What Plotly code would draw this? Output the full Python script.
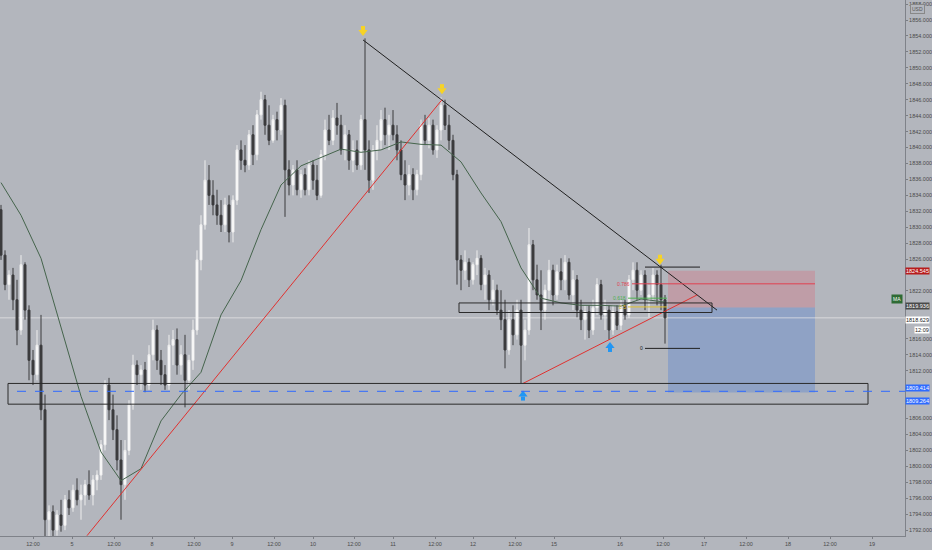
import plotly.graph_objects as go

# hourly-ish bars (price units)
first_open = 1832.2
closes = [
    1826.5, 1822.8, 1824.0, 1820.9, 1817.1, 1825.3, 1819.6, 1813.3, 1811.5, 1815.2,
    1807.1, 1793.3, 1794.3, 1792.0, 1793.9, 1792.6, 1795.8, 1794.8, 1797.0, 1795.8,
    1796.4, 1797.7, 1796.4, 1798.3, 1798.9, 1802.7, 1810.2, 1807.1, 1804.6, 1800.8,
    1797.7, 1802.0, 1807.7, 1812.7, 1811.5, 1812.1, 1810.2, 1814.0, 1817.1, 1813.3,
    1811.5, 1810.2, 1815.2, 1815.9, 1812.7, 1814.0, 1810.8, 1813.3, 1817.1, 1825.9,
    1830.3, 1835.9, 1834.0, 1832.8, 1831.5, 1830.3, 1832.8, 1829.4, 1833.4, 1839.7,
    1838.4, 1837.8, 1841.6, 1839.1, 1844.1, 1846.0, 1842.8, 1840.9, 1843.5, 1842.2,
    1845.3, 1837.2, 1835.3, 1837.2, 1834.7, 1836.6, 1834.7, 1837.8, 1835.9, 1834.0,
    1839.1, 1842.2, 1840.9, 1843.7, 1842.8, 1839.7, 1841.6, 1838.4, 1839.7, 1837.8,
    1843.5, 1839.7, 1835.9, 1839.7, 1840.9, 1843.5, 1841.6, 1842.8, 1841.6, 1839.7,
    1836.6, 1835.3, 1836.6, 1834.7, 1836.6, 1842.8, 1840.9, 1842.8, 1839.7, 1842.2,
    1845.3, 1842.8, 1840.9, 1836.6, 1825.9, 1824.6, 1825.6, 1823.4, 1825.3, 1826.1,
    1822.8, 1824.0, 1820.9, 1822.1, 1819.6, 1818.4, 1814.6, 1818.4, 1816.5, 1819.6,
    1815.2, 1817.1, 1827.8, 1823.4, 1821.5, 1819.6, 1822.1, 1824.6, 1821.5, 1824.4,
    1823.4, 1825.6, 1821.5, 1823.4, 1819.6, 1818.4, 1819.4, 1817.1, 1819.9, 1822.8,
    1819.0, 1819.6, 1817.1, 1819.4, 1817.7, 1820.2, 1819.0, 1823.4, 1824.6, 1822.1,
    1824.0, 1820.9, 1821.5, 1824.0, 1822.8, 1820.9, 1818.629]
highs = [
    1832.8, 1827.1, 1824.6, 1824.9, 1823.4, 1826.5, 1825.6, 1820.2, 1814.6, 1817.1,
    1819.0, 1809.0, 1795.1, 1795.1, 1794.5, 1795.8, 1796.4, 1797.0, 1797.7, 1798.5,
    1797.7, 1798.3, 1799.5, 1798.9, 1799.5, 1803.3, 1810.8, 1811.1, 1809.0, 1806.4,
    1803.3, 1803.3, 1808.3, 1814.0, 1813.3, 1812.7, 1813.1, 1815.2, 1818.4, 1817.7,
    1814.6, 1812.7, 1816.5, 1817.1, 1817.3, 1815.2, 1816.5, 1814.0, 1818.4, 1827.1,
    1831.5, 1838.4, 1837.8, 1835.9, 1834.7, 1833.4, 1833.7, 1834.0, 1834.0, 1840.3,
    1840.9, 1840.3, 1842.2, 1842.8, 1844.7, 1847.0, 1846.6, 1845.3, 1844.1, 1844.5,
    1846.2, 1846.0, 1838.4, 1837.8, 1838.4, 1837.2, 1837.4, 1838.4, 1838.4, 1837.8,
    1839.7, 1843.5, 1844.1, 1844.7, 1845.6, 1844.1, 1842.8, 1842.2, 1840.9, 1840.9,
    1844.1, 1853.7, 1840.9, 1840.3, 1842.8, 1844.7, 1845.0, 1844.1, 1844.7, 1842.8,
    1840.9, 1838.4, 1837.8, 1837.4, 1837.2, 1843.5, 1844.1, 1843.7, 1843.5, 1842.8,
    1846.3, 1846.0, 1844.1, 1841.6, 1837.2, 1826.5, 1827.1, 1826.1, 1825.6, 1827.1,
    1826.5, 1824.9, 1824.6, 1823.4, 1822.8, 1822.1, 1820.9, 1819.6, 1820.2, 1820.9,
    1820.9, 1818.4, 1829.9, 1828.4, 1825.3, 1824.6, 1822.8, 1825.9, 1825.3, 1825.3,
    1826.1, 1826.5, 1826.1, 1824.6, 1824.0, 1820.9, 1820.2, 1820.2, 1820.9, 1823.6,
    1823.4, 1820.9, 1820.2, 1820.2, 1820.2, 1820.9, 1820.9, 1824.0, 1825.6, 1825.6,
    1824.6, 1824.6, 1822.8, 1824.9, 1824.6, 1825.3, 1821.5]
lows = [
    1825.9, 1822.1, 1820.9, 1819.6, 1815.2, 1816.5, 1818.4, 1810.8, 1810.2, 1810.8,
    1805.8, 1790.1, 1790.8, 1791.0, 1791.3, 1791.8, 1792.0, 1793.9, 1794.3, 1795.1,
    1793.3, 1795.1, 1795.8, 1795.1, 1797.0, 1798.3, 1802.0, 1805.8, 1803.3, 1799.5,
    1793.3, 1795.8, 1801.4, 1807.1, 1810.2, 1809.6, 1809.3, 1809.6, 1813.3, 1812.1,
    1810.2, 1809.6, 1809.6, 1812.7, 1811.5, 1811.5, 1807.4, 1809.6, 1812.1, 1816.5,
    1824.6, 1829.7, 1832.8, 1831.5, 1830.3, 1829.4, 1829.4, 1828.1, 1828.1, 1832.8,
    1837.2, 1836.9, 1837.2, 1837.8, 1838.4, 1843.5, 1841.6, 1840.3, 1840.6, 1840.9,
    1841.6, 1831.3, 1834.0, 1834.0, 1834.0, 1833.7, 1834.0, 1834.0, 1834.7, 1833.4,
    1833.7, 1838.4, 1840.3, 1840.3, 1841.6, 1839.1, 1838.4, 1837.2, 1836.9, 1837.2,
    1837.2, 1837.2, 1834.3, 1834.7, 1838.4, 1839.7, 1840.3, 1839.7, 1840.9, 1838.4,
    1835.9, 1833.4, 1834.0, 1833.4, 1834.0, 1835.9, 1840.3, 1839.9, 1839.1, 1838.7,
    1840.9, 1842.2, 1839.7, 1835.9, 1822.8, 1822.1, 1823.4, 1822.5, 1822.8, 1824.0,
    1822.1, 1820.9, 1819.6, 1820.2, 1819.0, 1817.1, 1812.3, 1814.0, 1815.2, 1815.9,
    1810.4, 1813.3, 1816.5, 1822.1, 1820.9, 1817.1, 1818.4, 1820.9, 1820.2, 1820.9,
    1822.1, 1822.1, 1820.9, 1819.6, 1818.7, 1817.1, 1815.9, 1816.1, 1816.5, 1819.0,
    1818.4, 1817.1, 1815.9, 1816.5, 1817.1, 1817.1, 1818.4, 1818.6, 1822.1, 1820.9,
    1821.5, 1819.6, 1818.7, 1820.9, 1820.2, 1819.6, 1815.4]
opens = [first_open] + closes[:-1]
bars = list(range(len(closes)))

# moving average read at every 5th bar
ma_bars = [0, 5, 10, 15, 20, 25, 30, 35, 40, 45, 50, 55, 60, 65, 70, 75, 80,
           85, 90, 95, 100, 105, 110, 115, 120, 125, 130, 135, 140, 145, 150,
           155, 160, 166]
ma_vals = [1835.6, 1831.5, 1826.1, 1817.6, 1808.8, 1801.8, 1798.2, 1799.7,
           1805.7, 1809.0, 1811.8, 1819.0, 1823.3, 1829.7, 1835.3, 1837.7,
           1838.7, 1839.8, 1839.4, 1839.7, 1840.7, 1840.4, 1840.3, 1838.2,
           1834.3, 1830.7, 1824.9, 1821.1, 1820.5, 1820.2, 1820.2, 1820.1,
           1821.0, 1820.6]

# time axis labels (bar positions)
tick_pos = [8.0, 17.75, 28.25, 37.75, 48.25, 57.75, 68.25, 78.0, 88.25, 98.0,
            108.5, 118.0, 128.5, 138.25, 154.75, 165.5, 175.75, 186.25,
            196.75, 207.25, 217.75]
tick_text = ["12:00", "5", "12:00", "8", "12:00", "9", "12:00", "10", "12:00",
             "11", "12:00", "12", "12:00", "15", "16", "12:00", "17", "12:00",
             "18", "12:00", "19"]

# price scale ticks; the ones hidden behind price labels are left out
hidden_ticks = [1808, 1810, 1818, 1820, 1824]
price_ticks = [p for p in range(1792, 1860, 2) if p not in hidden_ticks]

# drawings (bar, price)
down_trend = [(90.5, 1853.5), (179.0, 1819.6)]
up_trend = [(21.5, 1791.3), (110.25, 1846.0)]
low_trend = [(130.5, 1810.4), (174.0, 1821.5)]
support_zone = (1.75, 216.75, 1807.8, 1810.4)
range_box = (114.5, 177.75, 1819.3, 1820.5)
stop_price, entry_price, target_price = 1824.545, 1819.936, 1809.264
pos_x = (166.75, 203.5)
hline_price = 1809.414
last_price = 1818.629
top_arrows_x = [90.5, 110.25, 164.75]
top_arrows_y = [1854.5, 1847.2, 1825.8]
low_arrows_x = [130.5, 152.25]
low_arrows_y = [1809.0, 1815.1]

bg = "#b3b6bd"
dark = "#2b2b2b"

fig = go.Figure()

fig.add_trace(go.Candlestick(
    x=bars, open=opens, high=highs, low=lows, close=closes,
    increasing=dict(line=dict(color="#eeeeee", width=1), fillcolor="#ffffff"),
    decreasing=dict(line=dict(color="#3b3b3d", width=1), fillcolor="#3b3b3d"),
    whiskerwidth=0, hoverinfo="skip",
))

fig.add_trace(go.Scatter(
    x=ma_bars, y=ma_vals, mode="lines",
    line=dict(color="#45644c", width=1), hoverinfo="skip",
))

# drawings
for (x0, y0), (x1, y1), col in [(down_trend[0], down_trend[1], "#202020"),
                                (up_trend[0], up_trend[1], "#e0312f"),
                                (low_trend[0], low_trend[1], "#e0312f")]:
    fig.add_shape(type="line", x0=x0, y0=y0, x1=x1, y1=y1,
                  line=dict(color=col, width=1))

fig.add_shape(type="rect", x0=support_zone[0], x1=support_zone[1],
              y0=support_zone[2], y1=support_zone[3],
              line=dict(color=dark, width=1))
fig.add_shape(type="rect", x0=range_box[0], x1=range_box[1],
              y0=range_box[2], y1=range_box[3],
              line=dict(color=dark, width=1))

fig.add_shape(type="rect", x0=pos_x[0], x1=pos_x[1], y0=entry_price, y1=stop_price,
              fillcolor="rgba(235,70,90,0.22)", line_width=0, layer="below")
fig.add_shape(type="rect", x0=pos_x[0], x1=pos_x[1], y0=target_price, y1=entry_price,
              fillcolor="rgba(50,110,220,0.28)", line_width=0, layer="below")

fig.add_shape(type="line", x0=4, x1=226, y0=hline_price, y1=hline_price,
              line=dict(color="#2f6bff", width=1, dash="dash"))
fig.add_shape(type="line", x0=-0.25, x1=226, y0=last_price, y1=last_price,
              line=dict(color="rgba(235,235,235,0.7)", width=1), layer="below")

# fib levels
fib = [(161.0, 174.75, 1825.0, "#202020", ""),
       (157.75, 203.5, 1822.9, "#e04050", "0.786"),
       (156.75, 166.5, 1821.1, "#4caf50", "0.618"),
       (156.75, 166.5, 1820.0, "#e0c030", "0.5"),
       (161.0, 174.75, 1814.8, "#202020", "0")]
for x0, x1, y, col, lab in fib:
    fig.add_shape(type="line", x0=x0, x1=x1, y0=y, y1=y, line=dict(color=col, width=1))
    if lab:
        fig.add_annotation(x=x0, y=y, text=lab, showarrow=False, xanchor="right",
                           font=dict(size=5, color=col))

# block arrows: shaft + head
fig.add_trace(go.Scatter(
    x=top_arrows_x, y=[v + 0.5 for v in top_arrows_y], mode="markers",
    marker=dict(symbol="square", size=4, color="#f7d325"), hoverinfo="skip",
))
fig.add_trace(go.Scatter(
    x=top_arrows_x, y=top_arrows_y, mode="markers",
    marker=dict(symbol="triangle-down", size=8, color="#f7d325"), hoverinfo="skip",
))
fig.add_trace(go.Scatter(
    x=low_arrows_x, y=[v - 0.5 for v in low_arrows_y], mode="markers",
    marker=dict(symbol="square", size=4, color="#2196f3"), hoverinfo="skip",
))
fig.add_trace(go.Scatter(
    x=low_arrows_x, y=low_arrows_y, mode="markers",
    marker=dict(symbol="triangle-up", size=8, color="#2196f3"), hoverinfo="skip",
))

# price scale labels
labels = [(stop_price, "1824.545", "#b71c1c", "white", 0, 0),
          (entry_price, "1819.936", "#4a4a4a", "white", 0, 1),
          (last_price, "1818.629", "white", "#222", 0, -2),
          (last_price, "12:09", "white", "#222", 9, -12),
          (hline_price, "1809.414", "#2f6bff", "white", 0, 3),
          (target_price, "1809.264", "#2f6bff", "white", 0, -8)]
for y, txt, bgc, fc, xs, ys in labels:
    fig.add_annotation(xref="paper", x=1, xshift=xs, y=y, yshift=ys, text=txt,
                       showarrow=False, xanchor="left", bgcolor=bgc, borderpad=0,
                       font=dict(size=5.5, color=fc))
fig.add_annotation(xref="paper", x=1, xshift=-2, y=1821.0, text="MA", showarrow=False,
                   xanchor="right", bgcolor="#2e6b34", borderpad=1,
                   font=dict(size=5, color="white"))
fig.add_annotation(xref="paper", yref="paper", x=1, xshift=5, y=1, yshift=-4,
                   text="USD", showarrow=False, xanchor="left", yanchor="top",
                   bgcolor=bg, bordercolor="#888", borderwidth=1, borderpad=1,
                   font=dict(size=5, color="#555"))

fig.update_layout(
    width=932, height=550,
    margin=dict(l=0, r=27, t=0, b=14),
    paper_bgcolor=bg, plot_bgcolor=bg,
    showlegend=False,
    font=dict(family="Liberation Sans", color="#4a4a4a"),
    xaxis=dict(range=[-0.25, 226], showgrid=False, zeroline=False,
               tickmode="array", tickvals=tick_pos, ticktext=tick_text,
               ticks="outside", ticklen=2, tickcolor="#7a7d84",
               tickfont=dict(size=5.5, color="#4a4a4a"),
               showline=True, linecolor="#7f8289", linewidth=1,
               rangeslider=dict(visible=False), fixedrange=True),
    yaxis=dict(range=[1791.26, 1858.51], side="right", showgrid=False,
               zeroline=False, tickmode="array", tickvals=price_ticks,
               tickformat=".3f",
               ticks="outside", ticklen=2, tickcolor="#7a7d84",
               tickfont=dict(size=5.5, color="#4a4a4a"),
               showline=True, linecolor="#7f8289", linewidth=1,
               automargin=False),
)

fig.write_html("out.html", config={"displayModeBar": False},
               post_script="document.body.style.margin='0';"
                           "document.body.style.background='" + bg + "';")
